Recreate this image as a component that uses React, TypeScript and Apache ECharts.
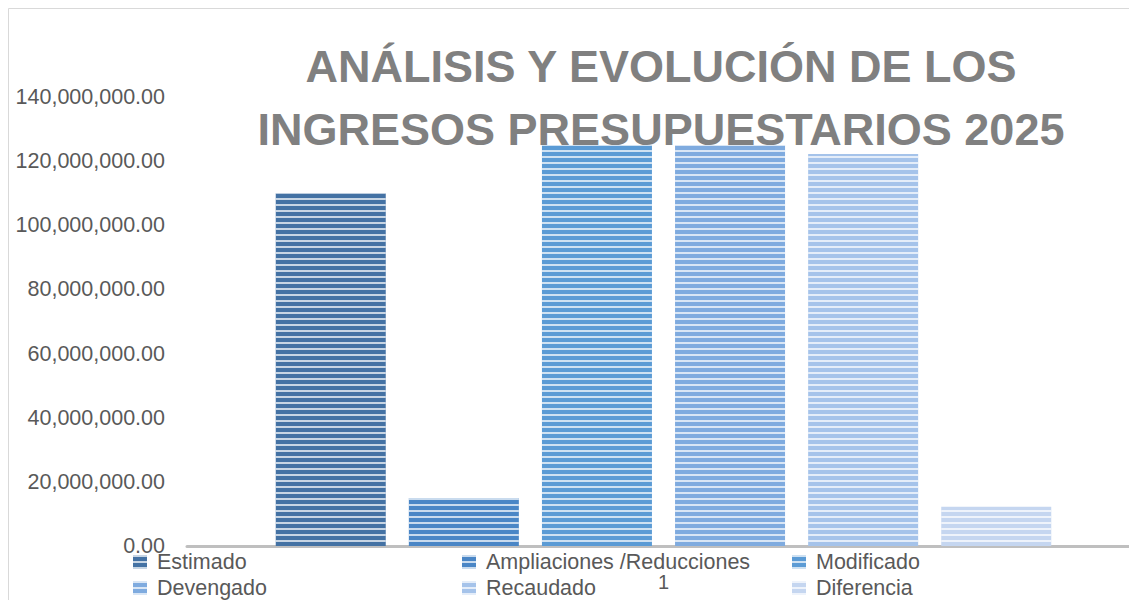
import React, { useEffect, useRef } from "react";
import * as echarts from "echarts";

const categories = ["1"];
const seriesNames = [
  "Estimado",
  "Ampliaciones /Reducciones",
  "Modificado",
  "Devengado",
  "Recaudado",
  "Diferencia",
];
const seriesValues = [110000000, 15000000, 125000000, 125000000, 122200000, 12200000];
const seriesColors = ["#4472a4", "#4a86c6", "#5b9bd5", "#7fabdf", "#a5c3ea", "#c5d6f0"];
const titleLines = ["ANÁLISIS Y EVOLUCIÓN DE LOS", "INGRESOS PRESUPUESTARIOS 2025"];
const legendPositions = [
  [133, 551],
  [462, 551],
  [792, 551],
  [133, 577],
  [462, 577],
  [792, 577],
];

const fmt = (v: number) =>
  v.toLocaleString("en-US", { minimumFractionDigits: 2, maximumFractionDigits: 2 });

export default function App() {
  const ref = useRef<HTMLDivElement>(null);
  useEffect(() => {
    if (!ref.current) return;
    const chart = echarts.init(ref.current, undefined, { renderer: "svg" });
    const font = "'Liberation Sans', Arial, sans-serif";
    chart.setOption({
      animation: false,
      backgroundColor: "#ffffff",
      title: {
        text: titleLines.join("\n"),
        left: 661,
        top: 35,
        textAlign: "center",
        padding: 0,
        textStyle: {
          fontFamily: font,
          fontWeight: "bold",
          fontSize: 45,
          lineHeight: 63,
          color: "#808080",
        },
      },
      graphic: [
        {
          type: "rect",
          shape: { x: 8.5, y: 8.5, width: 1200, height: 700 },
          style: { fill: "none", stroke: "#d9d9d9", lineWidth: 1 },
          silent: true,
          z: -1,
        },
      ],
      legend: seriesNames.map((n, i) => ({
        data: [n],
        left: legendPositions[i][0],
        top: legendPositions[i][1],
        padding: 0,
        itemWidth: 14,
        itemHeight: 14,
        icon: "rect",
        textStyle: {
          fontFamily: font,
          fontSize: 21.5,
          color: "#595959",
          padding: [0, 0, 0, 5],
        },
      })),
      grid: { left: 187, top: 97, width: 953, height: 449, containLabel: false },
      xAxis: {
        type: "category",
        data: categories,
        axisLine: { show: true, lineStyle: { color: "#bfbfbf", width: 3 } },
        axisTick: { show: false },
        axisLabel: { fontFamily: font, fontSize: 20, color: "#595959", margin: 26 },
      },
      yAxis: {
        type: "value",
        min: 0,
        max: 140000000,
        interval: 20000000,
        splitLine: { show: false },
        axisLine: { show: false },
        axisTick: { show: false },
        axisLabel: {
          fontFamily: font,
          fontSize: 21.5,
          color: "#595959",
          margin: 22,
          formatter: (v: number) => fmt(v),
        },
      },
      series: seriesNames.map((n, i) => ({
        name: n,
        type: "bar",
        data: [seriesValues[i]],
        barWidth: 110,
        barGap: "21%",
        itemStyle: {
          color: seriesColors[i],
          decal: {
            symbol: "rect",
            symbolSize: 1,
            dashArrayX: [1, 0],
            dashArrayY: [2, 4],
            rotation: 0,
            color: "rgba(255,255,255,0.7)",
          },
        },
      })),
    });
    return () => chart.dispose();
  }, []);
  return (
    <div
      style={{
        position: "absolute",
        left: 0,
        top: 0,
        width: 1129,
        height: 600,
        overflow: "hidden",
      }}
    >
      <div ref={ref} style={{ width: 1160, height: 600 }} />
    </div>
  );
}
